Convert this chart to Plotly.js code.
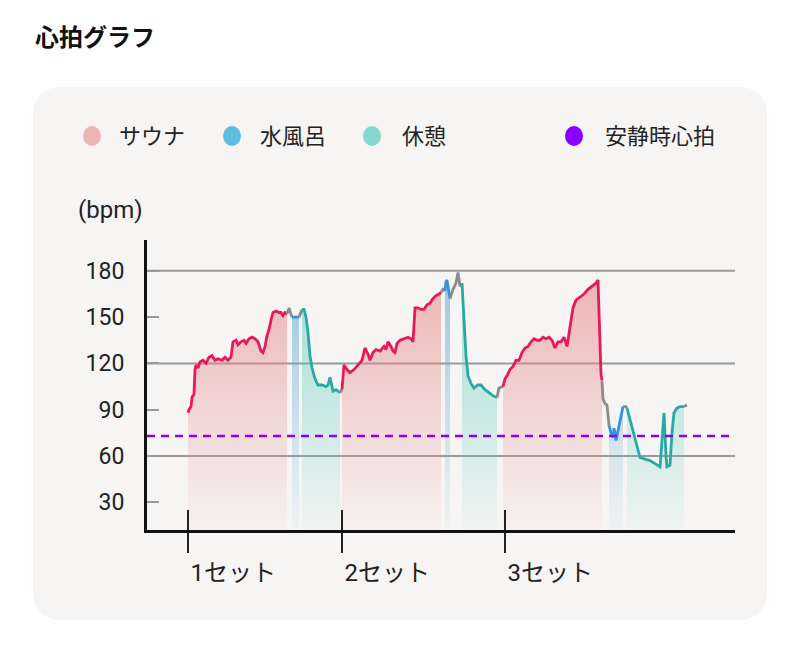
<!DOCTYPE html>
<html>
<head>
<meta charset="utf-8">
<script src="https://cdn.plot.ly/plotly-3.0.1.min.js"></script>
<style>
  html, body { margin: 0; padding: 0; background: #ffffff; width: 800px; height: 657px; overflow: hidden; }
  #card { position: absolute; left: 33px; top: 87px; width: 734px; height: 533px; border-radius: 26px; background: #f6f5f4; }
  #chart { position: absolute; left: 0; top: 0; width: 800px; height: 657px; }
</style>
</head>
<body>
<div id="card"></div>
<div id="chart"></div>
<script>
// ---- Data (time in seconds from start of set 1, heart rate in bpm) ----
const sauna1T  = [0,10,30,40,60,70,80,100,120,150,180,210,240,270,300,340,370,400,430,450,480,500,530,560,580,610,640,670,700,730,750,770,790,810,830,850,880,910,930,950,970,990];
const sauna1HR = [88,90,92,98,100,116,119,117,121,122,120,124,125,122,123,122,124,122,124,134,135,132,134,135,133,136,137,136,134,128,127,131,138,142,148,153,154,153,153,151,153,152];
const trans1aT  = [990,1010,1040];
const trans1aHR = [152,156,150];
const water1T  = [1040,1060,1080,1110];
const water1HR = [150,150,150,150];
const trans1bT  = [1110,1140];
const trans1bHR = [150,155];
const rest1T  = [1140,1160,1180,1200,1220,1240,1270,1300,1340,1380,1400,1420,1430,1450,1480,1520];
const rest1HR = [155,155,150,140,125,117,110,106,106,105,106,111,108,102,103,101];
const trans1cT  = [1520,1540];
const trans1cHR = [101,103];

const sauna2T  = [1540,1560,1590,1620,1660,1700,1740,1770,1800,1820,1850,1880,1920,1960,1980,2000,2030,2050,2070,2090,2120,2160,2200,2230,2250,2270,2300,2330,2360,2390,2420,2450,2480,2510,2530];
const sauna2HR = [103,119,116,114,116,119,122,130,126,122,127,129,128,131,129,134,131,128,127,133,135,136,137,136,134,156,156,155,155,158,159,162,164,165,166];
const trans2aT  = [2530,2550,2570];
const trans2aHR = [166,168,167];
const water2T  = [2570,2580,2590,2610,2620];
const water2HR = [167,173,174,164,162];
const trans2bT  = [2620,2650,2680,2700,2720,2740];
const trans2bHR = [162,168,172,179,170,172];
const rest2T  = [2740,2760,2780,2800,2830,2860,2900,2930,2970,3010,3050,3090];
const rest2HR = [172,150,125,112,107,104,106,106,103,101,99,98];
const trans2cT  = [3090,3110,3150];
const trans2cHR = [98,104,105];

const sauna3T  = [3150,3170,3190,3220,3250,3280,3310,3340,3370,3400,3430,3460,3490,3520,3550,3580,3610,3640,3670,3700,3730,3760,3790,3810,3830,3850,3880,3920,3960,4000,4040,4080,4100,4120,4130,4140];
const sauna3HR = [105,110,112,116,118,122,122,127,130,131,134,136,135,135,137,136,137,135,130,134,134,137,131,139,147,156,161,163,165,168,170,172,174,140,113,109];
const trans3aT  = [4140,4150,4170,4190,4210];
const trans3aHR = [109,97,94,93,80];
const water3T  = [4210,4230,4250,4260,4280,4300,4320,4340,4350];
const water3HR = [80,75,72,78,70,76,84,90,92];
const trans3bT  = [4350,4380,4390];
const trans3bHR = [92,92,91];
const rest3T  = [4390,4420,4450,4490,4520,4570,4620,4670,4720,4740,4760,4780,4790,4820,4840,4860,4890,4920,4960];
const rest3HR = [91,84,76,66,59,58,57,55,53,70,88,60,53,54,75,88,91,92,92];
const trans3cT  = [4960,4990];
const trans3cHR = [92,93];

const restingHR = 73;
const yTickVals = [30, 60, 90, 120, 150, 180];
const gridVals = [60, 120, 180];
const setTickVals = [0, 1540, 3170];
const setLabels = ['1セット', '2セット', '3セット'];
const legendLabels = ['サウナ', '水風呂', '休憩', '安静時心拍'];

// ---- Styles ----
const FONT = "Roboto, 'Noto Sans CJK JP', sans-serif";
const Y_MIN = 12, Y_MAX = 200;
const styles = {
  sauna: { line: '#e8185b', top: 'rgba(230,135,135,0.6)', bottom: 'rgba(230,140,140,0.04)' },
  water: { line: '#2f95e0', top: 'rgba(95,165,210,0.6)', bottom: 'rgba(100,170,210,0.04)' },
  rest:  { line: '#27aaa6', top: 'rgba(85,200,185,0.55)', bottom: 'rgba(90,200,185,0.04)' },
  trans: { line: '#8c8c8c' }
};
const legendColors = ['#eeb5b5', '#5dbde0', '#82d8cf', '#8800ff'];

const segments = [
  ['sauna', sauna1T, sauna1HR], ['trans', trans1aT, trans1aHR], ['water', water1T, water1HR],
  ['trans', trans1bT, trans1bHR], ['rest', rest1T, rest1HR], ['trans', trans1cT, trans1cHR],
  ['sauna', sauna2T, sauna2HR], ['trans', trans2aT, trans2aHR], ['water', water2T, water2HR],
  ['trans', trans2bT, trans2bHR], ['rest', rest2T, rest2HR], ['trans', trans2cT, trans2cHR],
  ['sauna', sauna3T, sauna3HR], ['trans', trans3aT, trans3aHR], ['water', water3T, water3HR],
  ['trans', trans3bT, trans3bHR], ['rest', rest3T, rest3HR], ['trans', trans3cT, trans3cHR]
];

const traces = [];
segments.forEach(([kind, t, hr]) => {
  if (kind === 'trans') return;
  const s = styles[kind];
  traces.push({
    type: 'scatter', mode: 'none', x: t, y: hr, fill: 'tozeroy',
    fillgradient: { type: 'vertical', start: Y_MIN, stop: 180, colorscale: [[0, s.bottom], [1, s.top]] },
    hoverinfo: 'skip', showlegend: false
  });
});
segments.forEach(([kind, t, hr]) => {
  traces.push({
    type: 'scatter', mode: 'lines', x: t, y: hr,
    line: { color: styles[kind].line, width: 2.8, shape: 'linear' },
    hoverinfo: 'skip', showlegend: false
  });
});

// ---- Layout ----
const W = 800, H = 657;
const L = 147, R = 65, T = 240, B = 127;
const pw = W - L - R, ph = H - T - B;
const px2x = p => (p - L) / pw;
const py2y = p => (H - B - p) / ph;

const shapes = [];
gridVals.forEach(v => shapes.push({
  type: 'line', xref: 'paper', yref: 'y', x0: 0, x1: 1, y0: v, y1: v,
  line: { color: '#9a9a9a', width: 2 }, layer: 'below'
}));
shapes.push({
  type: 'line', xref: 'paper', yref: 'y', x0: 0, x1: 1, y0: restingHR, y1: restingHR,
  line: { color: '#8800ff', width: 2.5, dash: '8px,6px' }, layer: 'above'
});
setTickVals.forEach(v => shapes.push({
  type: 'line', xref: 'x', yref: 'paper', x0: v, x1: v, y0: 0, y1: 20 / ph,
  line: { color: '#222222', width: 2 }, layer: 'above'
}));

const legendDotX = [92, 232, 372, 574];
const legendTextX = [117, 258, 400, 603];
const legendY = 136;
const annotations = [];
legendLabels.forEach((lab, i) => {
  shapes.push({
    type: 'circle', xref: 'paper', yref: 'paper', xsizemode: 'pixel', ysizemode: 'pixel',
    xanchor: px2x(legendDotX[i]), yanchor: py2y(legendY),
    x0: -9, x1: 9, y0: -10, y1: 10,
    fillcolor: legendColors[i], line: { width: 0 }
  });
  annotations.push({
    xref: 'paper', yref: 'paper', x: px2x(legendTextX[i]), y: py2y(legendY),
    xanchor: 'left', yanchor: 'middle', showarrow: false, text: lab,
    font: { family: FONT, size: 22, color: '#222222' }
  });
});
annotations.push({
  xref: 'paper', yref: 'paper', x: px2x(110), y: py2y(210),
  xanchor: 'center', yanchor: 'middle', showarrow: false, text: '(bpm)',
  font: { family: FONT, size: 24, color: '#222222' }
});

const layout = {
  width: W, height: H,
  margin: { l: L, r: R, t: T, b: B, pad: 0 },
  paper_bgcolor: 'rgba(0,0,0,0)', plot_bgcolor: 'rgba(0,0,0,0)',
  showlegend: false,
  title: {
    text: '<b>心拍グラフ</b>', xref: 'container', yref: 'container',
    x: 35 / W, xanchor: 'left', y: 1 - 38 / H, yanchor: 'middle',
    font: { family: FONT, size: 24, color: '#111111' }
  },
  xaxis: {
    range: [-410, 5470], showgrid: false, zeroline: false,
    showline: true, linecolor: '#111111', linewidth: 3,
    tickmode: 'array', tickvals: setTickVals, ticktext: setLabels,
    ticks: 'outside', ticklen: 20, tickwidth: 2, tickcolor: '#222222',
    ticklabelposition: 'outside right', ticklabelstandoff: 19,
    tickfont: { family: FONT, size: 24, color: '#222222' }, fixedrange: true
  },
  yaxis: {
    range: [Y_MIN, Y_MAX], showgrid: false, zeroline: false,
    showline: true, linecolor: '#111111', linewidth: 3,
    tickmode: 'array', tickvals: yTickVals,
    ticks: 'inside', ticklen: 12, tickwidth: 2, tickcolor: '#9a9a9a',
    ticklabelstandoff: 15,
    tickfont: { family: FONT, size: 23, color: '#222222' }, fixedrange: true
  },
  shapes: shapes,
  annotations: annotations
};

Plotly.newPlot('chart', traces, layout, { staticPlot: true, displayModeBar: false });
</script>
</body>
</html>
